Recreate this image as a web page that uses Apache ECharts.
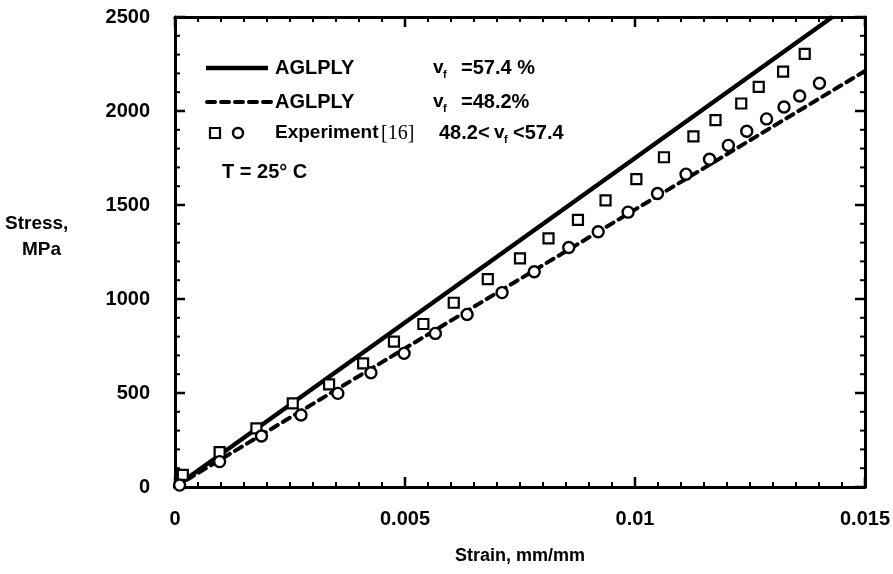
<!DOCTYPE html>
<html><head><meta charset="utf-8">
<script src="https://cdn.jsdelivr.net/npm/echarts@6/dist/echarts.min.js"></script>
<style>html,body{margin:0;padding:0;background:#fff}#c{width:893px;height:574px}</style>
</head><body><div id="c"></div>
<script>
// ---- data ----
const xTicks = [0, 0.005, 0.01, 0.015];
const yTicks = [0, 500, 1000, 1500, 2000, 2500];
const xMinorPerMajor = 10;
const yMinorPerMajor = 5;
const line574Strain = [0, 0.01429];
const line574Stress = [0, 2500];
const line482Strain = [0, 0.015];
const line482Stress = [0, 2213];
const sqStrain = [0.00017,0.00097,0.00177,0.00256,0.00335,0.00409,0.00476,0.00540,0.00606,0.00680,0.00750,0.00812,0.00876,0.00936,0.01003,0.01063,0.01127,0.01175,0.01231,0.01269,0.01322,0.01369];
const sqStress = [64,185,312,445,546,658,773,867,980,1106,1216,1323,1421,1525,1638,1754,1865,1951,2040,2128,2209,2304];
const ciStrain = [0.0001,0.00097,0.00188,0.00274,0.00354,0.00426,0.00498,0.00566,0.00635,0.00711,0.00781,0.00856,0.00920,0.00985,0.01049,0.01111,0.01162,0.01203,0.01243,0.01286,0.01324,0.01358,0.01401];
const ciStress = [10,135,271,383,498,608,711,817,918,1034,1145,1274,1358,1462,1561,1664,1743,1817,1892,1958,2021,2080,2148];

const zip = (a,b)=>a.map((v,i)=>[v,b[i]]);
const FONT = '"Liberation Sans", Arial, sans-serif';
const xMin = xTicks[0], xMax = xTicks[xTicks.length-1], yMin = yTicks[0], yMax = yTicks[yTicks.length-1];

// minor tick values: subdivisions between consecutive major ticks
function minors(ticks, n){
  const out = [];
  for (let i = 0; i < ticks.length-1; i++)
    for (let k = 1; k < n; k++) out.push(ticks[i] + (ticks[i+1]-ticks[i])*k/n);
  return out;
}
const xMinor = minors(xTicks, xMinorPerMajor);
const yMinor = minors(yTicks, yMinorPerMajor);

// tick marks drawn as small bars placed through the axes' own scales
function tickSeries(data, w, h, off){
  return {type:'scatter', data:data, symbol:'rect', symbolSize:[w,h], symbolOffset:off,
    silent:true, clip:false, z:2, itemStyle:{color:'#000', borderWidth:0, opacity:1}};
}
const tickMarks = [
  tickSeries(xTicks.map(v=>[v,yMin]), 2.5, 10, [0,-5]),
  tickSeries(xTicks.map(v=>[v,yMax]), 2.5, 10, [0,5]),
  tickSeries(xMinor.map(v=>[v,yMin]), 2, 5, [0,-2.5]),
  tickSeries(xMinor.map(v=>[v,yMax]), 2, 5, [0,2.5]),
  tickSeries(yTicks.map(v=>[xMin,v]), 10, 2.5, [5,0]),
  tickSeries(yTicks.map(v=>[xMax,v]), 10, 2.5, [-5,0]),
  tickSeries(yMinor.map(v=>[xMin,v]), 5, 2, [2.5,0]),
  tickSeries(yMinor.map(v=>[xMax,v]), 5, 2, [-2.5,0])
];

const chart = echarts.init(document.getElementById('c'));
const labelFont = {fontFamily:FONT, fontWeight:'bold', fontSize:20, color:'#000'};
const plainAxis = {
  axisLine:{show:true, onZero:false, lineStyle:{color:'#000', width:3}},
  axisTick:{show:false}, minorTick:{show:false}, splitLine:{show:false}, minorSplitLine:{show:false}
};
chart.setOption({
  animation:false,
  grid:{left:175, right:25, top:17, bottom:87},
  xAxis:[
    Object.assign({type:'value', min:xMin, max:xMax, interval:0.005, position:'bottom',
      name:'Strain, mm/mm', nameLocation:'middle', nameGap:60,
      nameTextStyle:{fontFamily:FONT, fontWeight:'bold', fontSize:18, color:'#000'},
      axisLabel:Object.assign({margin:22, formatter:v=>String(v)}, labelFont)}, plainAxis),
    Object.assign({type:'value', min:xMin, max:xMax, interval:0.005, position:'top', axisLabel:{show:false}}, plainAxis)
  ],
  yAxis:[
    Object.assign({type:'value', min:yMin, max:yMax, interval:500, position:'left',
      axisLabel:Object.assign({margin:25, formatter:v=>String(v)}, labelFont)}, plainAxis),
    Object.assign({type:'value', min:yMin, max:yMax, interval:500, position:'right', axisLabel:{show:false}}, plainAxis)
  ],
  series:[
    {type:'line', name:'AGLPLY 57.4', data:zip(line574Strain, line574Stress), symbol:'none',
      lineStyle:{color:'#000', width:4.5}, z:3},
    {type:'line', name:'AGLPLY 48.2', data:zip(line482Strain, line482Stress), symbol:'none',
      lineStyle:{color:'#000', width:4, type:[8,6], cap:'round'}, z:3},
    {type:'scatter', name:'Experiment sq', data:zip(sqStrain, sqStress), symbol:'rect', symbolSize:10,
      itemStyle:{color:'#fff', borderColor:'#000', borderWidth:2.2, opacity:1}, z:4},
    {type:'scatter', name:'Experiment ci', data:zip(ciStrain, ciStress), symbol:'circle', symbolSize:11,
      itemStyle:{color:'#fff', borderColor:'#000', borderWidth:2.4, opacity:1}, z:4}
  ].concat(tickMarks),
  graphic:[
    {type:'text', left:5, top:214, style:{text:'Stress,', font:'bold 19px '+FONT, fill:'#000'}},
    {type:'text', left:22, top:240, style:{text:'MPa', font:'bold 19px '+FONT, fill:'#000'}},
    {type:'line', shape:{x1:206, y1:68, x2:268, y2:68}, style:{stroke:'#000', lineWidth:4.5}},
    {type:'text', x:275, y:68, style:{text:'AGLPLY', font:'bold 20px '+FONT, fill:'#000', verticalAlign:'middle'}},
    {type:'text', x:433, y:68, style:{text:'v', font:'bold 19px '+FONT, fill:'#000', verticalAlign:'middle'}},
    {type:'text', x:443, y:75, style:{text:'f', font:'bold 11px '+FONT, fill:'#000', verticalAlign:'middle'}},
    {type:'text', x:461, y:68, style:{text:'=57.4 %', font:'bold 20px '+FONT, fill:'#000', verticalAlign:'middle'}},
    {type:'line', shape:{x1:207, y1:102, x2:272, y2:102}, style:{stroke:'#000', lineWidth:4, lineDash:[8,6], lineCap:'round'}},
    {type:'text', x:275, y:102, style:{text:'AGLPLY', font:'bold 20px '+FONT, fill:'#000', verticalAlign:'middle'}},
    {type:'text', x:433, y:102, style:{text:'v', font:'bold 19px '+FONT, fill:'#000', verticalAlign:'middle'}},
    {type:'text', x:443, y:109, style:{text:'f', font:'bold 11px '+FONT, fill:'#000', verticalAlign:'middle'}},
    {type:'text', x:461, y:102, style:{text:'=48.2%', font:'bold 20px '+FONT, fill:'#000', verticalAlign:'middle'}},
    {type:'rect', shape:{x:210, y:128, width:10, height:10}, style:{fill:'#fff', stroke:'#000', lineWidth:2.2}},
    {type:'circle', shape:{cx:238, cy:133, r:5}, style:{fill:'#fff', stroke:'#000', lineWidth:2.4}},
    {type:'text', x:275, y:133, style:{text:'Experiment', font:'bold 19px '+FONT, fill:'#000', verticalAlign:'middle'}},
    {type:'text', x:381, y:134, style:{text:'[16]', font:'20px "Liberation Serif", "Times New Roman", serif', fill:'#000', verticalAlign:'middle'}},
    {type:'text', x:439, y:133, style:{text:'48.2<', font:'bold 20px '+FONT, fill:'#000', verticalAlign:'middle'}},
    {type:'text', x:494, y:133, style:{text:'v', font:'bold 19px '+FONT, fill:'#000', verticalAlign:'middle'}},
    {type:'text', x:504, y:140, style:{text:'f', font:'bold 11px '+FONT, fill:'#000', verticalAlign:'middle'}},
    {type:'text', x:513, y:133, style:{text:'<57.4', font:'bold 20px '+FONT, fill:'#000', verticalAlign:'middle'}},
    {type:'text', x:222, y:172, style:{text:'T = 25° C', font:'bold 20px '+FONT, fill:'#000', verticalAlign:'middle'}}
  ]
});
</script></body></html>
